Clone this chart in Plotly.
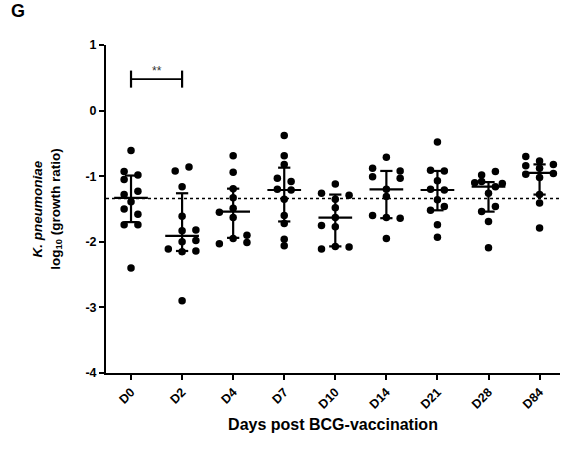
import plotly.graph_objects as go

categories = ["D0", "D2", "D4", "D7", "D10", "D14", "D21", "D28", "D84"]

# individual values (log10 growth ratio) per day
d0 = [-0.61, -0.93, -0.98, -1.05, -1.23, -1.28, -1.39, -1.50, -1.58, -1.74, -1.74, -2.40]
d2 = [-0.92, -0.86, -1.16, -1.61, -1.83, -1.82, -2.00, -1.98, -2.11, -2.15, -2.14, -2.90]
d4 = [-0.69, -0.94, -1.19, -1.33, -1.49, -1.55, -1.63, -1.95, -1.90, -2.01, -2.03]
d7 = [-0.38, -0.69, -0.82, -1.03, -1.08, -1.20, -1.21, -1.35, -1.60, -1.72, -1.96, -2.06]
d10 = [-1.12, -1.26, -1.29, -1.35, -1.48, -1.63, -1.75, -1.77, -2.07, -2.08, -2.11]
d14 = [-0.71, -0.88, -0.92, -1.01, -1.03, -1.20, -1.31, -1.60, -1.63, -1.64, -1.95]
d21 = [-0.48, -0.91, -0.92, -1.07, -1.20, -1.21, -1.36, -1.46, -1.52, -1.74, -1.93]
d28 = [-0.93, -0.98, -1.10, -1.08, -1.11, -1.16, -1.26, -1.46, -1.54, -1.69, -2.09]
d84 = [-0.70, -0.77, -0.82, -0.84, -0.88, -0.97, -0.96, -1.02, -1.28, -1.41, -1.79]

# scatter column slot of each point (beeswarm layout)
s0 = [0, -1, 1, -1, 1, -1, 0, -1, 1, -1, 1, 0]
s2 = [-1, 1, 0, 0, 0, 2, 0, 2, -2, 0, 2, 0]
s4 = [0, 0, 0, 0, 0, -2, 0, 0, 2, 2, -2]
s7 = [0, 0, 0, -1, 1, -1, 1, 0, 0, 0, 0, 0]
s10 = [0, -2, 2, 0, 0, 0, -2, 0, 0, 2, -2]
s14 = [0, -2, 2, -2, 2, 0, 0, -2, 0, 2, 0]
s21 = [0, -1, 1, 0, -1, 1, 0, 1, -1, 0, 0]
s28 = [1, -1, -2, -1, 2, 1, 0, 1, -1, 0, 0]
s84 = [-2, 0, 2, -2, 0, -2, 2, 0, 0, 0, 0]

values = [d0, d2, d4, d7, d10, d14, d21, d28, d84]
slots = [s0, s2, s4, s7, s10, s14, s21, s28, s84]

# median with interquartile range
medians = [-1.33, -1.91, -1.54, -1.21, -1.63, -1.20, -1.21, -1.16, -0.95]
q3 = [-0.99, -1.26, -1.19, -0.87, -1.28, -0.92, -0.92, -1.09, -0.82]
q1 = [-1.70, -2.14, -1.94, -1.69, -2.07, -1.64, -1.52, -1.54, -1.28]

baseline = -1.34
sig_pair = (0, 1)
sig_y = 0.48
sig_text = "**"

yticks = [1, 0, -1, -2, -3, -4]

SLOT = 0.135
MED_HALF = 0.33
CAP_HALF = 0.12
FONT = "Liberation Sans, Arial, sans-serif"

fig = go.Figure()

for i, (vals, sl) in enumerate(zip(values, slots)):
    fig.add_trace(go.Scatter(
        x=[i + s * SLOT for s in sl], y=vals, mode="markers",
        marker=dict(color="black", size=7.5, line=dict(width=0)),
        showlegend=False, hoverinfo="skip"))

for i in range(len(categories)):
    # median line
    fig.add_trace(go.Scatter(x=[i - MED_HALF, i + MED_HALF], y=[medians[i], medians[i]],
                             mode="lines", line=dict(color="black", width=2.2),
                             showlegend=False, hoverinfo="skip"))
    # vertical IQR
    fig.add_trace(go.Scatter(x=[i, i], y=[q1[i], q3[i]], mode="lines",
                             line=dict(color="black", width=2.2),
                             showlegend=False, hoverinfo="skip"))
    for q in (q1[i], q3[i]):
        fig.add_trace(go.Scatter(x=[i - CAP_HALF, i + CAP_HALF], y=[q, q], mode="lines",
                                 line=dict(color="black", width=2.2),
                                 showlegend=False, hoverinfo="skip"))

# baseline dotted line
fig.add_shape(type="line", xref="paper", yref="y", x0=0, x1=1, y0=baseline, y1=baseline,
              line=dict(color="black", width=1.5, dash="dot"), layer="below")

# significance bracket
a, b = sig_pair
fig.add_trace(go.Scatter(x=[a, b], y=[sig_y, sig_y], mode="lines",
                         line=dict(color="black", width=1.8), showlegend=False, hoverinfo="skip"))
for xx in (a, b):
    fig.add_trace(go.Scatter(x=[xx, xx], y=[sig_y - 0.13, sig_y + 0.13], mode="lines",
                             line=dict(color="black", width=2.2), showlegend=False, hoverinfo="skip"))
fig.add_annotation(x=(a + b) / 2, y=sig_y, text=sig_text, showarrow=False, yshift=8,
                   font=dict(family=FONT, size=12, color="#333"))

fig.add_annotation(xref="paper", yref="paper", x=-0.213, y=1.105, xanchor="left", yanchor="middle",
                   text="<b>G</b>", showarrow=False, font=dict(family=FONT, size=18, color="black"))

fig.update_layout(
    width=573, height=450,
    margin=dict(l=106, r=13, t=45, b=77),
    plot_bgcolor="white", paper_bgcolor="white",
    xaxis=dict(
        range=[-0.49, 8.4], tickmode="array", tickvals=list(range(len(categories))),
        ticktext=["<b>%s</b>" % c for c in categories], tickangle=-45,
        showline=True, linecolor="black", linewidth=2, ticks="outside", ticklen=5,
        tickwidth=2, tickcolor="black", showgrid=False, zeroline=False,
        tickfont=dict(family=FONT, size=12.5, color="black"),
        title=dict(text="<b>Days post BCG-vaccination</b>", standoff=8,
                   font=dict(family=FONT, size=16, color="black")),
    ),
    yaxis=dict(
        range=[-4, 1], tickmode="array", tickvals=yticks,
        ticktext=["<b>%d</b>" % t for t in yticks],
        showline=True, linecolor="black", linewidth=2, ticks="outside", ticklen=5,
        tickwidth=2, tickcolor="black", showgrid=False, zeroline=False,
        tickfont=dict(family=FONT, size=12.5, color="black"),
        title=dict(text="<b><i>K. pneumoniae</i></b><br><b>log<sub>10</sub> (growth ratio)</b>",
                   standoff=22, font=dict(family=FONT, size=13.5, color="black")),
    ),
)

fig.write_html("out.html")
